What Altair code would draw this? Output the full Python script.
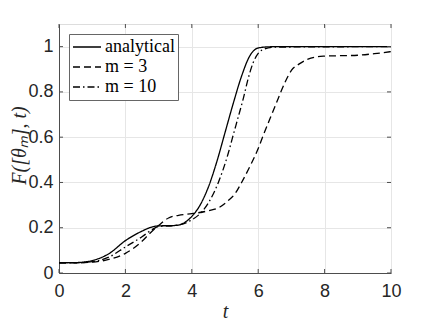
import altair as alt
import pandas as pd

# --- data ---
t_analytical = [0, 0.5, 1, 1.5, 2, 2.5, 2.84, 3, 3.5, 3.75, 4, 4.25, 4.5, 4.75, 5.0, 5.25, 5.5, 5.75, 6.0, 6.3, 6.6, 10]
F_analytical = [0.045, 0.046, 0.055, 0.085, 0.143, 0.185, 0.205, 0.208, 0.21, 0.22, 0.25, 0.3, 0.38, 0.49, 0.62, 0.75, 0.87, 0.96, 0.994, 0.999, 1.0, 1.0]

t_m3 = [0, 0.5, 1, 1.5, 2, 2.5, 2.75, 3, 3.3, 3.6, 4, 4.5, 4.83, 5.1, 5.3, 5.5, 5.78, 6.0, 6.13, 6.35, 6.6, 6.8, 7.0, 7.25, 7.5, 7.76, 8.0, 8.5, 9.0, 9.5, 10]
F_m3 = [0.045, 0.045, 0.048, 0.06, 0.087, 0.14, 0.177, 0.21, 0.243, 0.255, 0.262, 0.275, 0.29, 0.32, 0.35, 0.40, 0.48, 0.55, 0.6, 0.68, 0.77, 0.84, 0.895, 0.925, 0.945, 0.955, 0.958, 0.96, 0.962, 0.969, 0.978]

t_m10 = [0, 0.5, 1, 1.5, 2, 2.5, 2.84, 3.0, 3.5, 4.0, 4.3, 4.5, 4.8, 4.95, 5.1, 5.23, 5.4, 5.55, 5.7, 5.85, 6.0, 6.2, 6.5, 10]
F_m10 = [0.045, 0.045, 0.05, 0.07, 0.115, 0.16, 0.195, 0.205, 0.21, 0.235, 0.27, 0.31, 0.4, 0.46, 0.53, 0.6, 0.69, 0.77, 0.86, 0.93, 0.97, 0.99, 0.998, 1.0]

series_names = ["analytical", "m = 3", "m = 10"]
series_dash = [[1, 0], [7, 4], [7, 3, 1.5, 3]]
x_ticks = [0, 2, 4, 6, 8, 10]
y_ticks = [0, 0.2, 0.4, 0.6, 0.8, 1]

rows = []
for name, ts, fs in zip(series_names, [t_analytical, t_m3, t_m10], [F_analytical, F_m3, F_m10]):
    for t, f in zip(ts, fs):
        rows.append({"t": t, "F": f, "series": name})
df = pd.DataFrame(rows)

W, H = 332, 249
FONT = "Liberation Sans"
SERIF = "Liberation Serif"
AXC = "#4d4d4d"

xs = alt.Scale(domain=[0, 10], nice=False)
ys = alt.Scale(domain=[0, 1.1], nice=False)

lines = alt.Chart(df).mark_line(interpolate="monotone", color="black", strokeWidth=1.3).encode(
    x=alt.X("t:Q", scale=xs, axis=alt.Axis(values=x_ticks, title="t", grid=True, gridColor="#e6e6e6",
                                           tickSize=0, labelPadding=9, labelFontSize=18, labelFont=FONT,
                                           labelFlush=False, labelOverlap=False,
                                           labelColor="#262626", domainColor=AXC,
                                           titleFont=SERIF, titleFontStyle="italic", titleFontWeight="normal",
                                           titleFontSize=20, titleY=44, titleBaseline="alphabetic",
                                           titleColor="#262626")),
    y=alt.Y("F:Q", scale=ys, axis=alt.Axis(values=y_ticks, format="~g", title="F([θₘ], t)", grid=True,
                                           gridColor="#e6e6e6", tickSize=0, labelPadding=6, labelFontSize=18,
                                           labelFlush=False, labelOverlap=False,
                                           labelFont=FONT, labelColor="#262626", domainColor=AXC,
                                           titleFont=SERIF, titleFontStyle="italic", titleFontWeight="normal",
                                           titleFontSize=20, titleX=-40, titleY=121, titleAngle=-90,
                                           titleBaseline="middle", titleAlign="center", titleColor="#262626")),
    strokeDash=alt.StrokeDash("series:N", scale=alt.Scale(domain=series_names, range=series_dash),
                              sort=series_names,
                              legend=alt.Legend(title=None, orient="top-left", offset=10, symbolType="stroke",
                                                symbolSize=784, symbolStrokeWidth=1.3, symbolStrokeColor="black",
                                                labelFont=SERIF, labelFontSize=18, labelColor="black",
                                                labelOffset=3, padding=3, rowPadding=0, clipHeight=20,
                                                fillColor="white", strokeColor="#666666")),
    detail="series:N",
)

xt = pd.DataFrame({"v": x_ticks})
yt = pd.DataFrame({"v": y_ticks})
tx_bot = alt.Chart(xt).mark_rule(color=AXC).encode(x=alt.X("v:Q", scale=xs), y=alt.value(H), y2=alt.value(H - 4))
tx_top = alt.Chart(xt).mark_rule(color=AXC).encode(x=alt.X("v:Q", scale=xs), y=alt.value(0), y2=alt.value(4))
ty_left = alt.Chart(yt).mark_rule(color=AXC).encode(y=alt.Y("v:Q", scale=ys), x=alt.value(0), x2=alt.value(4))
ty_right = alt.Chart(yt).mark_rule(color=AXC).encode(y=alt.Y("v:Q", scale=ys), x=alt.value(W), x2=alt.value(W - 4))

chart = alt.layer(lines, tx_bot, tx_top, ty_left, ty_right).properties(
    width=W, height=H,
    autosize=alt.AutoSizeParams(type="none"),
    padding={"left": 51, "top": 16, "right": 30, "bottom": 60},
).configure_view(stroke=AXC, strokeWidth=1).configure(background="white")

chart.save("out.html", embed_options={"renderer": "svg", "actions": False})
